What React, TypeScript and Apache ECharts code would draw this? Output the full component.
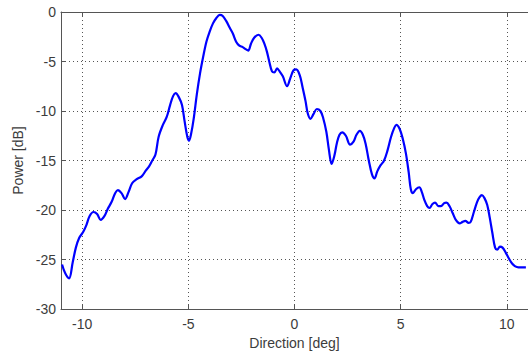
import React, { useEffect, useRef } from "react";
import * as echarts from "echarts";

const directionDeg: number[] = [
  -10.95, -10.8, -10.62, -10.45, -10.3, -10.14, -9.95, -9.8, -9.65, -9.47,
  -9.3, -9.13, -8.95, -8.8, -8.62, -8.45, -8.32, -8.15, -7.98, -7.82,
  -7.65, -7.45, -7.2, -7.0, -6.85, -6.7, -6.55, -6.4, -6.2, -6.02,
  -5.86, -5.72, -5.6, -5.45, -5.3, -5.18, -5.05, -4.97, -4.87, -4.75,
  -4.6, -4.45, -4.3, -4.15, -4.0, -3.84, -3.68, -3.52, -3.38, -3.22,
  -3.05, -2.9, -2.75, -2.6, -2.44, -2.3, -2.18, -2.05, -1.9, -1.7,
  -1.55, -1.42, -1.3, -1.2, -1.06, -0.95, -0.82, -0.7, -0.55, -0.35,
  -0.2, -0.05, 0.08, 0.25, 0.38, 0.52, 0.62, 0.75, 0.9, 1.05,
  1.22, 1.35, 1.5, 1.62, 1.75, 1.88, 2.0, 2.12, 2.25, 2.42,
  2.62, 2.78, 2.92, 3.08, 3.22, 3.35, 3.5, 3.65, 3.77, 3.9,
  4.05, 4.22, 4.38, 4.55, 4.7, 4.8, 4.95, 5.1, 5.25, 5.38,
  5.48, 5.58, 5.72, 5.88, 6.0, 6.12, 6.25, 6.36, 6.5, 6.62,
  6.78, 6.9, 7.05, 7.16, 7.3, 7.45, 7.6, 7.78, 7.92, 8.05,
  8.2, 8.3, 8.45, 8.6, 8.72, 8.83, 8.95, 9.08, 9.2, 9.32,
  9.45, 9.55, 9.68, 9.8, 9.95, 10.1, 10.25, 10.4, 10.55, 10.7,
  10.9,
];

const powerDb: number[] = [
  -25.5, -26.4, -26.9, -25.3, -23.8, -22.8, -22.2, -21.5, -20.6, -20.2,
  -20.4, -21.0, -20.6, -19.9, -19.2, -18.3, -18.0, -18.3, -18.9, -18.2,
  -17.3, -16.9, -16.6, -16.0, -15.6, -15.0, -14.4, -12.6, -11.4, -10.6,
  -9.4, -8.5, -8.2, -8.6, -9.4, -11.0, -12.6, -13.0, -12.3, -10.8,
  -8.3, -6.2, -4.5, -3.0, -2.0, -1.15, -0.6, -0.3, -0.4, -0.9,
  -1.6, -2.2, -3.0, -3.4, -3.55, -3.75, -3.9, -3.2, -2.6, -2.3,
  -2.6, -3.2, -4.0, -4.9, -6.0, -6.1, -5.7, -6.0, -6.5, -7.5,
  -6.7, -5.9, -5.8, -6.4, -7.6, -9.0, -10.2, -10.8, -10.3, -9.8,
  -10.0, -10.7, -12.1, -13.9, -15.35, -14.5, -13.2, -12.4, -12.15, -12.5,
  -13.4, -13.1, -12.4, -12.0, -12.4, -13.3, -15.0, -16.4, -16.8, -16.1,
  -15.5, -15.0, -14.0, -12.6, -11.7, -11.4, -11.8, -12.8, -14.3, -16.2,
  -17.9, -18.3, -17.9, -17.7, -18.2, -19.0, -19.6, -19.8, -19.4, -19.25,
  -19.6, -19.6, -19.3, -19.25, -19.6, -20.3, -21.0, -21.35, -21.2, -21.1,
  -21.3, -21.2, -20.2, -19.2, -18.7, -18.5, -18.8, -19.5, -20.8, -22.3,
  -23.8, -24.0, -23.7, -23.8, -24.3, -24.9, -25.4, -25.7, -25.8, -25.8,
  -25.8,
];

const xTicks: number[] = [-10, -5, 0, 5, 10];
const xMin = -11;
const xMax = 11;
const yMin = -30;
const yMax = 0;
const yStep = 5;

const FONT = "'Liberation Sans', Arial, sans-serif";
const TEXT_COLOR = "#3c3c3c";
const AXIS_COLOR = "#555555";
const GRID_COLOR = "#555555";

export default function App() {
  const ref = useRef<HTMLDivElement>(null);

  useEffect(() => {
    if (!ref.current) return;
    const chart = echarts.init(ref.current, undefined, { renderer: "svg" });
    const seriesData = directionDeg.map((x, i) => [x, powerDb[i]]);

    chart.setOption({
      animation: false,
      backgroundColor: "#ffffff",
      grid: { left: 61, top: 12, width: 470, height: 297, containLabel: false },
      xAxis: [
        {
          type: "value",
          min: xMin,
          max: xMax,
          position: "bottom",
          name: "Direction [deg]",
          nameLocation: "middle",
          nameGap: 27,
          nameTextStyle: { color: TEXT_COLOR, fontSize: 14, fontFamily: FONT },
          axisLine: { show: true, onZero: false, lineStyle: { color: AXIS_COLOR, width: 1 } },
          axisTick: {
            show: true,
            inside: true,
            length: 4,
            customValues: xTicks,
            lineStyle: { color: AXIS_COLOR },
          },
          axisLabel: {
            customValues: xTicks,
            color: TEXT_COLOR,
            fontSize: 14,
            fontFamily: FONT,
            margin: 8,
          },
          splitLine: {
            show: true,
            lineStyle: { color: GRID_COLOR, type: [1, 3], width: 1 },
          },
        },
        {
          type: "value",
          min: xMin,
          max: xMax,
          position: "top",
          axisLine: { show: true, onZero: false, lineStyle: { color: AXIS_COLOR, width: 1 } },
          axisTick: {
            show: true,
            inside: true,
            length: 4,
            customValues: xTicks,
            lineStyle: { color: AXIS_COLOR },
          },
          axisLabel: { show: false },
          splitLine: { show: false },
        },
      ],
      yAxis: [
        {
          type: "value",
          min: yMin,
          max: yMax,
          interval: yStep,
          name: "Power [dB]",
          nameLocation: "middle",
          nameGap: 34,
          nameRotate: 90,
          nameTextStyle: { color: TEXT_COLOR, fontSize: 14, fontFamily: FONT },
          axisLine: { show: true, onZero: false, lineStyle: { color: AXIS_COLOR, width: 1 } },
          axisTick: { show: true, inside: true, length: 4, lineStyle: { color: AXIS_COLOR } },
          axisLabel: { color: TEXT_COLOR, fontSize: 14, fontFamily: FONT, margin: 5 },
          splitLine: {
            show: true,
            lineStyle: { color: GRID_COLOR, type: [1, 3], width: 1 },
          },
        },
      ],
      series: [
        {
          type: "line",
          xAxisIndex: 0,
          yAxisIndex: 0,
          data: seriesData,
          smooth: 0.35,
          showSymbol: false,
          symbol: "none",
          lineStyle: { color: "#0000ff", width: 2.2 },
        },
      ],
    });

    return () => {
      chart.dispose();
    };
  }, []);

  return (
    <div
      ref={ref}
      style={{ position: "fixed", left: 0, top: 0, width: 528, height: 358, background: "#fff" }}
    />
  );
}
